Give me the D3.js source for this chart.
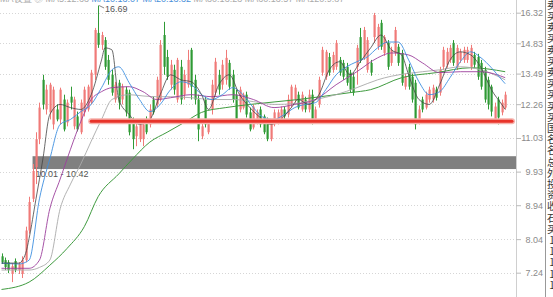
<!DOCTYPE html>
<html>
<head>
<meta charset="utf-8">
<script src="https://cdn.jsdelivr.net/npm/d3@7"></script>
<style>
  html, body { margin: 0; padding: 0; background: #fff; overflow: hidden; }
  svg { display: block; font-family: "Liberation Sans", Arial, sans-serif; }
</style>
</head>
<body>
<svg id="chart" width="553" height="297"></svg>
<script>
// daily candles (index = trading day)
const opens = [7.62,7.53,7.48,7.21,7.51,7.30,7.21,7.53,8.26,9.12,
  10.07,10.99,13.23,12.06,11.95,11.51,12.06,11.69,12.44,11.58,
  12.55,11.44,11.80,11.23,11.95,12.06,12.32,13.44,15.32,14.76,
  14.98,14.08,13.44,12.44,13.11,12.44,12.83,12.71,11.58,11.09,
  10.99,10.99,11.69,11.51,12.44,12.25,12.44,15.22,14.21,13.03,
  13.65,12.44,13.78,12.63,13.03,14.53,13.23,12.44,11.09,12.44,
  11.23,12.06,12.71,13.44,13.03,13.23,13.95,13.44,12.63,12.06,
  12.13,12.63,11.95,11.40,11.58,12.06,11.80,11.69,10.99,11.51,
  11.58,11.69,12.06,11.87,12.25,12.44,12.63,12.06,12.44,12.06,
  12.63,11.62,12.25,13.53,13.36,14.21,13.65,13.78,14.08,13.95,
  13.78,13.53,13.36,13.78,15.12,14.21,13.65,13.95,15.12,14.67,
  15.81,14.39,14.85,13.95,14.39,14.67,14.39,12.95,13.78,13.36,
  13.11,11.62,12.44,12.13,12.44,12.44,12.83,12.71,13.78,13.87,
  14.08,14.85,13.78,14.08,14.08,14.08,13.78,14.30,14.21,13.95,
  13.65,13.23,12.95,11.69,12.44,11.95,12.13];
const highs = [7.69,7.59,7.53,7.46,7.57,7.48,7.62,8.36,9.18,10.17,
  11.23,12.32,13.44,13.03,13.11,12.95,12.25,12.91,12.63,12.44,
  12.95,12.55,11.98,12.44,12.95,13.03,13.65,15.56,16.69,15.37,
  15.12,14.30,13.65,13.15,13.23,13.07,12.95,12.83,11.76,11.55,
  11.69,11.58,11.80,12.25,12.55,13.36,14.98,15.86,14.53,14.08,
  13.87,14.17,14.08,13.65,14.53,14.62,13.44,12.63,11.55,12.55,
  11.69,13.23,14.17,13.65,14.08,14.53,14.08,13.65,12.83,12.95,
  12.71,12.75,12.13,12.25,12.06,12.17,11.87,11.76,11.69,12.06,
  12.06,12.17,12.17,12.63,13.03,13.03,12.75,12.75,12.55,12.83,
  12.83,12.17,13.36,14.67,14.53,14.39,14.44,14.98,14.21,14.08,
  13.95,13.65,13.53,14.76,15.56,15.61,15.12,14.08,16.31,15.76,
  15.96,15.22,14.98,14.67,15.61,14.80,14.53,13.49,13.91,13.49,
  13.23,12.21,12.55,12.75,12.95,13.03,12.95,13.78,14.67,14.62,
  14.76,14.98,14.76,14.58,14.67,14.67,14.76,14.44,14.35,14.08,
  13.78,13.36,13.03,12.32,12.55,12.44,12.75];
const lows = [7.44,7.30,7.23,7.03,7.25,7.21,7.12,7.48,8.18,9.03,
  9.55,10.82,12.06,11.87,11.69,11.33,11.62,11.51,11.26,11.44,
  12.06,11.33,11.26,11.16,11.80,11.98,12.25,13.23,14.62,14.53,
  13.65,13.03,12.59,12.32,12.06,12.25,11.80,11.12,10.65,10.75,
  10.89,10.75,11.16,11.40,11.87,12.13,12.36,13.44,13.23,12.83,
  12.63,12.32,12.25,12.44,12.91,12.44,12.25,10.92,10.99,11.40,
  11.16,11.87,12.59,12.63,12.83,13.03,12.83,12.32,11.62,11.95,
  12.06,11.76,11.26,11.33,11.51,11.40,11.16,10.92,10.92,11.44,
  11.51,11.62,11.69,11.76,12.13,12.32,12.06,11.98,11.95,11.95,
  11.51,11.55,12.13,13.40,13.23,13.40,13.53,13.65,13.40,13.23,
  12.99,12.71,12.59,13.03,13.95,14.08,13.53,13.40,14.85,14.53,
  14.53,14.26,13.65,13.82,14.26,13.82,12.99,12.83,12.83,12.32,
  11.33,11.51,11.95,12.06,12.32,12.32,12.40,12.59,13.65,13.74,
  13.95,13.82,13.65,13.95,13.95,13.95,13.65,13.74,13.23,12.83,
  12.32,12.06,11.80,11.55,11.51,11.84,12.06];
const closes = [7.48,7.37,7.30,7.39,7.30,7.44,7.53,8.26,9.03,9.95,
  10.99,12.13,12.25,12.83,13.03,12.83,11.69,12.83,11.33,12.32,
  12.32,12.44,11.33,12.32,12.83,12.95,13.53,15.46,14.76,15.22,
  13.78,13.23,12.71,13.03,12.32,12.95,11.95,11.23,10.99,11.44,
  11.51,11.51,11.23,12.06,11.95,13.23,14.76,13.78,13.36,13.87,
  12.83,14.08,12.44,13.44,14.08,12.95,12.44,11.33,11.44,11.51,
  11.58,13.03,14.00,12.83,13.87,14.17,12.95,12.44,11.69,12.83,
  12.63,11.87,11.33,12.17,11.95,11.51,11.23,10.99,11.58,11.95,
  11.95,12.06,11.80,12.44,12.95,12.91,12.13,12.63,12.06,12.63,
  11.62,12.06,13.23,14.53,14.44,13.53,14.30,14.85,13.53,13.36,
  13.11,12.83,12.71,14.62,14.08,15.46,14.98,13.53,16.20,15.61,
  14.67,15.12,13.78,14.53,15.46,13.95,13.11,13.36,12.95,12.44,
  11.51,12.06,12.06,12.63,12.83,12.91,12.51,13.65,14.53,14.44,
  14.62,13.95,14.62,14.44,14.53,14.53,14.62,13.87,13.36,12.95,
  12.44,12.25,11.98,12.17,11.76,12.32,12.63];

// moving average lines at these candle indexes
const fastIdx = [0,5,7,8,10,12,14,17,20,23,26,29,30,32,34,37,40,43,46,49,52,55,58,60,63,66,69,72,75,78,81,84,86,89,92,95,98,101,104,107,110,113,116,118,121,124,127,130,133,136,139,142,145,146];
const ma5 = [7.46,7.46,7.69,8.06,9.12,10.33,11.87,12.25,12.13,12.06,12.63,14.08,14.62,14.53,12.44,11.87,11.51,11.69,12.63,13.44,13.23,13.15,12.63,12.06,13.03,13.44,12.63,12.13,11.76,11.51,11.69,12.13,12.44,12.25,12.63,13.65,14.00,13.44,14.00,14.62,15.22,14.53,14.30,13.44,12.44,12.25,13.03,14.08,14.44,14.30,13.74,12.83,12.25,12.06];
const midIdx = [0,5,8,11,14,17,20,23,26,29,32,34,37,40,43,46,49,52,55,58,61,64,67,70,73,76,79,82,85,88,91,94,97,100,103,106,109,112,115,118,121,124,127,130,133,136,139,142,145,146];
const ma10 = [7.46,7.44,7.53,9.12,10.33,11.51,11.69,11.98,12.25,12.91,13.65,13.78,13.11,12.44,11.98,12.25,12.83,13.15,13.03,12.63,12.44,12.63,12.91,12.63,12.13,11.76,11.69,11.87,12.13,12.25,12.32,12.83,13.44,13.78,14.00,14.21,14.62,14.89,14.89,14.08,13.15,12.63,12.75,13.32,14.00,14.44,14.17,13.74,13.23,13.07];
const slowIdx = [0,8,11,14,17,20,23,26,29,32,37,41,45,49,55,61,67,73,79,85,91,97,103,109,113,118,122,127,133,139,146];
const ma20 = [7.34,7.34,7.53,8.84,9.70,10.65,11.62,12.44,12.75,12.91,12.95,12.75,12.44,12.51,12.63,12.55,12.63,12.44,12.13,12.25,12.44,13.03,13.57,14.17,14.39,14.30,13.95,13.53,13.57,13.57,13.32];
const ma30 = [7.30,7.30,7.36,7.53,8.84,9.55,10.17,10.92,11.69,12.44,12.63,12.58,12.55,12.55,12.51,12.44,12.44,12.36,12.25,12.28,12.44,12.63,12.91,13.23,13.38,13.50,13.57,13.65,13.78,13.65,13.23];
const longIdx = [0,8,14,19,24,28,34,38,43,48,53,58,65,72,86,101,107,116,126,136,146];
const ma60 = [6.87,7.03,7.41,7.81,8.36,9.18,9.86,10.33,10.89,11.23,11.58,11.95,12.13,12.25,12.44,12.71,12.83,13.32,13.53,13.74,13.57];

// axis ticks and annotations
const yTicks = [16.32,14.83,13.49,12.26,11.03,9.93,8.94,8.04,7.24];
const supportLevel = 11.62;
const supportFrom = 26;
const zoneLow = 10.01, zoneHigh = 10.42;
const zoneFrom = 9;
const zoneLabel = "10.01 - 10.42";
const peakIndex = 28;
const sideColumn = "卖买卖买卖买卖买买买买国名名总外投资收石买11111";

const width = 553, height = 297;
const plotRight = 514, axisX = 516;
const n = closes.length;

const svg = d3.select('#chart');

const x = d3.scaleLinear().domain([0, n - 1]).range([1.5, 505.2]);
const y = d3.scaleLog().domain([6.71, 16.98]).range([height, 0]);

// grid
svg.append('g').selectAll('line').data(yTicks).join('line')
  .attr('x1', 0).attr('x2', plotRight)
  .attr('y1', d => Math.round(y(d)) + 0.5).attr('y2', d => Math.round(y(d)) + 0.5)
  .attr('stroke', '#d6d6d6').attr('stroke-dasharray', '1,2');

// header text, mostly cut off at the top edge
svg.append('text').attr('x', 0).attr('y', 2).attr('font-size', 9).attr('fill', '#aaa')
  .selectAll('tspan').data([
    { t: 'MA设置 ◎ MA5:12.63 ', c: '#aaa' },
    { t: 'MA10:13.07 MA20:13.32 ', c: '#4a90d9' },
    { t: 'MA30:13.23 MA60:13.57 MA120:9.87', c: '#aaa' }
  ]).join('tspan').attr('fill', d => d.c).text(d => d.t);

// zone band
svg.append('rect')
  .attr('x', x(zoneFrom)).attr('width', axisX - x(zoneFrom))
  .attr('y', y(zoneHigh)).attr('height', y(zoneLow) - y(zoneHigh))
  .attr('fill', '#808080');
svg.append('text').attr('x', x(zoneFrom) + 3).attr('y', y(zoneLow) + 8)
  .attr('font-size', 9).attr('fill', '#555').text(zoneLabel);

// candles
const candles = d3.range(n).map(i => ({ i, o: opens[i], h: highs[i], l: lows[i], c: closes[i] }));
const up = '#f07a78', down = '#2f9a35';
const cg = svg.append('g');
cg.selectAll('line').data(candles).join('line')
  .attr('x1', d => Math.round(x(d.i)) + 0.5).attr('x2', d => Math.round(x(d.i)) + 0.5)
  .attr('y1', d => y(d.h)).attr('y2', d => y(d.l))
  .attr('stroke', d => d.c >= d.o ? up : down).attr('stroke-width', 1);
cg.selectAll('rect').data(candles).join('rect')
  .attr('x', d => Math.round(x(d.i)) - 0.5).attr('width', 2.2)
  .attr('y', d => y(Math.max(d.o, d.c)))
  .attr('height', d => Math.max(1, y(Math.min(d.o, d.c)) - y(Math.max(d.o, d.c))))
  .attr('fill', d => d.c >= d.o ? up : down);

// moving averages
const line = d3.line().x(d => x(d[0])).y(d => y(d[1])).curve(d3.curveMonotoneX);
const maSeries = [
  { idx: longIdx, v: ma60, c: '#3f9b3f', w: 1 },
  { idx: slowIdx, v: ma30, c: '#a9a9a9', w: 0.9 },
  { idx: slowIdx, v: ma20, c: '#9c3f9c', w: 0.9 },
  { idx: midIdx, v: ma10, c: '#3d8ee0', w: 0.9 },
  { idx: fastIdx, v: ma5, c: '#444', w: 0.8 }
];
svg.append('g').selectAll('path').data(maSeries).join('path')
  .attr('d', d => line(d3.zip(d.idx, d.v)))
  .attr('fill', 'none').attr('stroke', d => d.c).attr('stroke-width', d => d.w);

// support line
const sy = y(supportLevel);
svg.append('line').attr('x1', x(supportFrom)).attr('x2', plotRight - 2)
  .attr('y1', sy).attr('y2', sy).attr('stroke', '#f6b3ad').attr('stroke-width', 6)
  .attr('stroke-linecap', 'round');
svg.append('line').attr('x1', x(supportFrom)).attr('x2', plotRight - 2)
  .attr('y1', sy).attr('y2', sy).attr('stroke', '#e8332a').attr('stroke-width', 3)
  .attr('stroke-linecap', 'round');

// peak marker
const px = x(peakIndex), py = y(highs[peakIndex]);
svg.append('path').attr('d', `M${px + 1},${py} L${px + 6},${py + 2.5}`)
  .attr('stroke', '#666').attr('fill', 'none').attr('stroke-width', 0.8);
svg.append('text').attr('x', px + 7).attr('y', py + 6).attr('font-size', 9).attr('fill', '#555')
  .text(d3.format('.2f')(highs[peakIndex]));

// right axis
const axis = svg.append('g').attr('transform', `translate(${axisX},0)`)
  .call(d3.axisRight(y).tickValues(yTicks).tickSize(5).tickFormat(d3.format('.2f')));
axis.select('.domain').attr('stroke', '#cfcfcf').attr('d', `M0.5,0V${height}`);
axis.selectAll('.tick line').attr('stroke', '#bbb');
axis.selectAll('.tick text').attr('x', 27).attr('text-anchor', 'end')
  .attr('fill', '#8a8a8a').attr('font-size', 9).attr('font-family', '"Liberation Sans", Arial, sans-serif');

// side column, one vertical text run
svg.append('line').attr('x1', 545.5).attr('x2', 545.5).attr('y1', 0).attr('y2', height)
  .attr('stroke', '#999');
svg.append('text').attr('x', 552).attr('y', 0)
  .attr('font-size', 10).attr('fill', '#333')
  .attr('font-family', '"Noto Sans CJK SC", sans-serif')
  .attr('letter-spacing', 1.2)
  .style('writing-mode', 'vertical-rl').style('text-orientation', 'upright')
  .text(sideColumn);
</script>
</body>
</html>
